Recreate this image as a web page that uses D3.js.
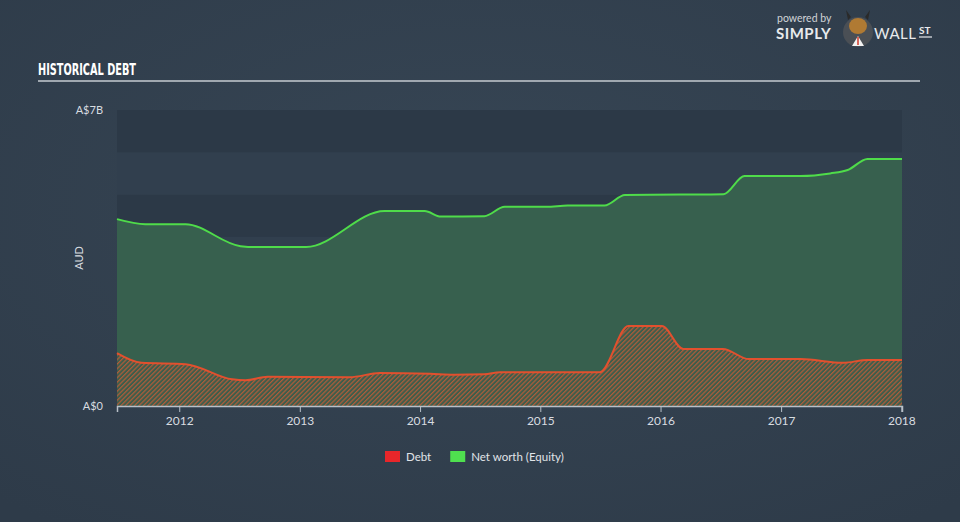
<!DOCTYPE html>
<html>
<head>
<meta charset="utf-8">
<script src="https://cdn.jsdelivr.net/npm/d3@7"></script>
<style>
  html, body { margin: 0; padding: 0; }
  body { width: 960px; height: 522px; overflow: hidden; background: #323f4d; }
  text { font-family: Lato, "Open Sans", sans-serif; }
</style>
</head>
<body>
<svg id="chart" width="960" height="522"></svg>
<script>
// data (billions AUD)
const equityDates = ['2011-06-26', '2011-09-20', '2012-01-20', '2012-07-05', '2012-08-20', '2013-01-20',
  '2013-09-15', '2014-01-15', '2014-03-05', '2014-07-15', '2014-09-15', '2015-01-20', '2015-03-25',
  '2015-07-15', '2015-09-15', '2016-03-01', '2016-07-10', '2016-09-12', '2017-03-01', '2017-05-30',
  '2017-07-22', '2017-09-20', '2018-01-03'];
const equityValues = [4.42, 4.30, 4.30, 3.78, 3.76, 3.76, 4.61, 4.61, 4.48, 4.49, 4.71, 4.71, 4.74,
  4.74, 4.99, 5.00, 5.01, 5.44, 5.44, 5.50, 5.58, 5.84, 5.84];

const debtDates = ['2011-06-26', '2011-09-08', '2012-01-20', '2012-06-10', '2012-07-20', '2012-09-25',
  '2013-06-01', '2013-09-01', '2014-02-01', '2014-04-15', '2014-07-15', '2014-09-01', '2015-07-01',
  '2015-09-25', '2016-01-05', '2016-03-10', '2016-07-08', '2016-09-25', '2017-03-01', '2017-07-08',
  '2017-09-20', '2018-01-03'];
const debtValues = [1.25, 1.02, 0.99, 0.63, 0.61, 0.69, 0.68, 0.78, 0.76, 0.74, 0.75, 0.80, 0.80,
  1.89, 1.89, 1.35, 1.35, 1.11, 1.11, 1.02, 1.09, 1.09];

const yearTicks = ['2012', '2013', '2014', '2015', '2016', '2017', '2018'];
const yTickValues = [0, 7];
const yTickLabels = ['A$0', 'A$7B'];
const legendItems = [
  { label: 'Debt', color: '#e8262a' },
  { label: 'Net worth (Equity)', color: '#4fe04f' }
];

const parse = d3.timeParse('%Y-%m-%d');
const equity = equityDates.map((d, i) => ({ date: parse(d), value: equityValues[i] }));
const debt = debtDates.map((d, i) => ({ date: parse(d), value: debtValues[i] }));

const svg = d3.select('#chart');
const margin = { left: 117, right: 58, top: 110, bottom: 116 };
const width = 960 - margin.left - margin.right;
const height = 522 - margin.top - margin.bottom;

const defs = svg.append('defs');

// page background
const bg = defs.append('radialGradient').attr('id', 'bg').attr('cx', '50%').attr('cy', '40%').attr('r', '75%');
bg.append('stop').attr('offset', '0%').attr('stop-color', '#374655');
bg.append('stop').attr('offset', '100%').attr('stop-color', '#2e3b49');
svg.append('rect').attr('width', 960).attr('height', 522).attr('fill', 'url(#bg)');

// hatch for the debt area
const hatch = defs.append('pattern')
  .attr('id', 'hatch')
  .attr('patternUnits', 'userSpaceOnUse')
  .attr('width', 3.2)
  .attr('height', 3.2)
  .attr('patternTransform', 'rotate(45)');
hatch.append('rect').attr('width', 3.2).attr('height', 3.2).attr('fill', '#3d5d4b');
hatch.append('rect').attr('width', 1.2).attr('height', 3.2).attr('fill', '#b05c3a');

// title
svg.append('text')
  .attr('x', 38)
  .attr('y', 75)
  .attr('fill', '#ffffff')
  .attr('font-weight', 'bold')
  .attr('font-size', 15)
  .attr('textLength', 98)
  .attr('lengthAdjust', 'spacingAndGlyphs')
  .style('font-family', '"DejaVu Sans Condensed", "Liberation Sans Narrow", sans-serif')
  .text('HISTORICAL DEBT');

svg.append('line')
  .attr('x1', 38).attr('x2', 920)
  .attr('y1', 81).attr('y2', 81)
  .attr('stroke', '#a0a8b0')
  .attr('stroke-width', 2);

// logo
const logo = svg.append('g');
logo.append('text').attr('x', 777).attr('y', 22).attr('fill', '#d0d4d8').attr('font-size', 10.5).text('powered by');
logo.append('text').attr('x', 776).attr('y', 39).attr('fill', '#e8eaec').attr('font-size', 15).attr('font-weight', 'bold')
  .attr('letter-spacing', 0.5).text('SIMPLY');
logo.append('circle').attr('cx', 858).attr('cy', 32).attr('r', 15).attr('fill', '#4a4f55');
logo.append('ellipse').attr('cx', 858).attr('cy', 26).attr('rx', 9).attr('ry', 8).attr('fill', '#b07a33');
logo.append('path').attr('d', 'M848,20 L846,10 L851,17 Z M868,20 L870,10 L865,17 Z').attr('fill', '#2a2a2a');
logo.append('path').attr('d', 'M852,46 L858,36 L864,46 Z').attr('fill', '#f2f2f2');
logo.append('line').attr('x1', 858).attr('x2', 858).attr('y1', 37).attr('y2', 45).attr('stroke', '#d23a2a').attr('stroke-width', 1.5);
logo.append('text').attr('x', 874).attr('y', 39).attr('fill', '#e8eaec').attr('font-size', 15)
  .attr('letter-spacing', 0.5).text('WALL');
logo.append('text').attr('x', 919).attr('y', 34).attr('fill', '#e8eaec').attr('font-size', 10).attr('font-weight', 'bold').text('ST');
logo.append('line').attr('x1', 919).attr('x2', 932).attr('y1', 37).attr('y2', 37).attr('stroke', '#e8eaec').attr('stroke-width', 1.2);

const g = svg.append('g').attr('transform', `translate(${margin.left},${margin.top})`);

const x = d3.scaleTime()
  .domain([equity[0].date, equity[equity.length - 1].date])
  .range([0, width]);
const y = d3.scaleLinear().domain([0, 7]).range([height, 0]);

// banded plot background, one band per A$1B
const bands = d3.range(0, 7);
g.selectAll('rect.band')
  .data(bands)
  .enter()
  .append('rect')
  .attr('class', 'band')
  .attr('x', 0)
  .attr('width', width)
  .attr('y', (d) => y(d + 1))
  .attr('height', (d) => y(d) - y(d + 1))
  .attr('fill', (d) => (d % 2 === 0 ? '#2c3947' : '#313f4e'));

const curve = d3.curveMonotoneX;

// net worth area, debt hatch, then both lines
g.append('path')
  .datum(equity)
  .attr('fill', '#37604e')
  .attr('d', d3.area().curve(curve).x((d) => x(d.date)).y0(y(0)).y1((d) => y(d.value)));

g.append('path')
  .datum(debt)
  .attr('fill', 'url(#hatch)')
  .attr('d', d3.area().curve(curve).x((d) => x(d.date)).y0(y(0)).y1((d) => y(d.value)));

g.append('path')
  .datum(equity)
  .attr('fill', 'none')
  .attr('stroke', '#4fdc4a')
  .attr('stroke-width', 2)
  .attr('d', d3.line().curve(curve).x((d) => x(d.date)).y((d) => y(d.value)));

g.append('path')
  .datum(debt)
  .attr('fill', 'none')
  .attr('stroke', '#e2502e')
  .attr('stroke-width', 2)
  .attr('d', d3.line().curve(curve).x((d) => x(d.date)).y((d) => y(d.value)));

// x axis
const xAxis = g.append('g')
  .attr('transform', `translate(0,${height})`)
  .call(d3.axisBottom(x)
    .tickValues(yearTicks.map((d) => parse(d + '-01-01')))
    .tickFormat(d3.timeFormat('%Y'))
    .tickSize(6)
    .tickPadding(4));
xAxis.select('.domain').attr('stroke', '#b8c0c8').attr('stroke-width', 1.5);
xAxis.selectAll('.tick line').attr('stroke', '#b8c0c8');
xAxis.selectAll('.tick text')
  .attr('fill', '#d8dce0')
  .attr('font-size', 12)
  .style('font-family', 'Lato, "Open Sans", sans-serif');

// y labels
g.selectAll('text.ylabel')
  .data(yTickValues)
  .enter()
  .append('text')
  .attr('class', 'ylabel')
  .attr('x', -14)
  .attr('y', (d) => y(d) + 4)
  .attr('text-anchor', 'end')
  .attr('fill', '#d8dce0')
  .attr('font-size', 11)
  .text((d, i) => yTickLabels[i]);

g.append('text')
  .attr('transform', `translate(-34,${height / 2}) rotate(-90)`)
  .attr('text-anchor', 'middle')
  .attr('fill', '#d8dce0')
  .attr('font-size', 11)
  .text('AUD');

// legend
const legend = svg.append('g').attr('transform', 'translate(385,451)');
let offset = 0;
legendItems.forEach((item) => {
  const row = legend.append('g').attr('transform', `translate(${offset},0)`);
  row.append('rect').attr('width', 15).attr('height', 11).attr('fill', item.color);
  const label = row.append('text')
    .attr('x', 21)
    .attr('y', 10)
    .attr('fill', '#e0e4e8')
    .attr('font-size', 11.5)
    .text(item.label);
  offset += 21 + label.node().getComputedTextLength() + 19;
});
</script>
</body>
</html>
